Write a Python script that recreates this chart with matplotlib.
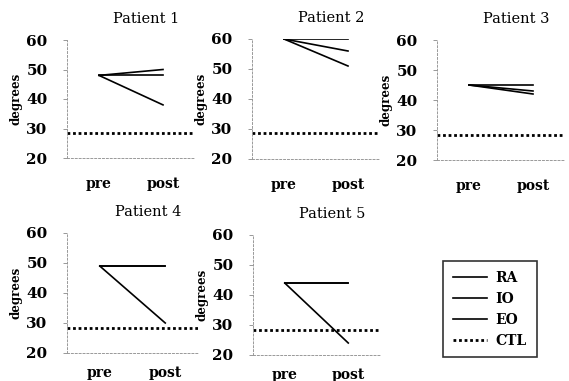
import matplotlib
matplotlib.use("Agg")
import matplotlib.pyplot as plt
from matplotlib.lines import Line2D

plt.rcParams['font.family'] = ['DejaVu Serif']

# values (degrees)
patients = ["Patient 1", "Patient 2", "Patient 3", "Patient 4", "Patient 5"]
muscles = ["RA", "IO", "EO"]
pre_vals = [48, 60, 45, 49, 44]
ra_post = [50, 60, 45, 49, 44]
io_post = [48, 56, 43, 49, 44]
eo_post = [38, 51, 42, 30, 24]
ctl = [28.5, 28.5, 28.5, 28.5, 28.5]
xlabels = ["pre", "post"]
yticks = [20, 30, 40, 50, 60]

W, H = 569, 381
# axes boxes in pixels: left, right, y of 60, y of 20
boxes = [(67, 195, 40, 158), (252, 380, 39, 159), (437, 565, 40, 160),
         (67, 198, 233, 353), (253, 380, 235, 355)]

fig = plt.figure(figsize=(W / 100, H / 100), dpi=100)

for i, name in enumerate(patients):
    l, r, t, b = boxes[i]
    ax = fig.add_axes([l / W, 1 - b / H, (r - l) / W, (b - t) / H])
    posts = [ra_post[i], io_post[i], eo_post[i]]
    for p in posts:
        ax.plot([0, 1], [pre_vals[i], p], color="black", lw=1.2)
    ax.axhline(ctl[i], color="black", lw=2, ls=(0, (1, 1)))
    ax.set_xlim(-0.5, 1.5)
    ax.set_ylim(20, 60)
    ax.set_xticks([0, 1])
    ax.set_xticklabels(xlabels, fontsize=10, fontweight="bold")
    ax.set_yticks(yticks)
    ax.set_yticklabels([str(v) for v in yticks], fontsize=11, fontweight="bold")
    ax.tick_params(axis="x", length=0, pad=14 if i < 3 else 9)
    ax.tick_params(axis="y", length=3, width=0.6, color="#888888", pad=11)
    for s in ["top", "right"]:
        ax.spines[s].set_visible(False)
    for s in ["left", "bottom"]:
        ax.spines[s].set_color("#999999")
        ax.spines[s].set_linewidth(0.7)
        ax.spines[s].set_linestyle((0, (2, 2)))
    ax.set_ylabel("degrees", fontsize=8.5, fontweight="bold", labelpad=3)
    ax.text(0.62, 1.12, name, transform=ax.transAxes, ha="center",
            va="bottom", fontsize=10.5)

# legend panel
handles = [Line2D([], [], color="black", lw=1.2) for _ in muscles]
handles.append(Line2D([], [], color="black", lw=2, ls=(0, (1, 1))))
leg = fig.legend(handles, muscles + ["CTL"], loc="upper left",
                 bbox_to_anchor=(443 / W, 1 - 261 / H), borderaxespad=0,
                 prop={"size": 10, "weight": "bold"}, frameon=True,
                 fancybox=False, edgecolor="black", handlelength=2.5,
                 labelspacing=0.5, borderpad=0.7, handletextpad=0.6)
leg.get_frame().set_linewidth(1.2)

fig.savefig("out.png", dpi=100)
